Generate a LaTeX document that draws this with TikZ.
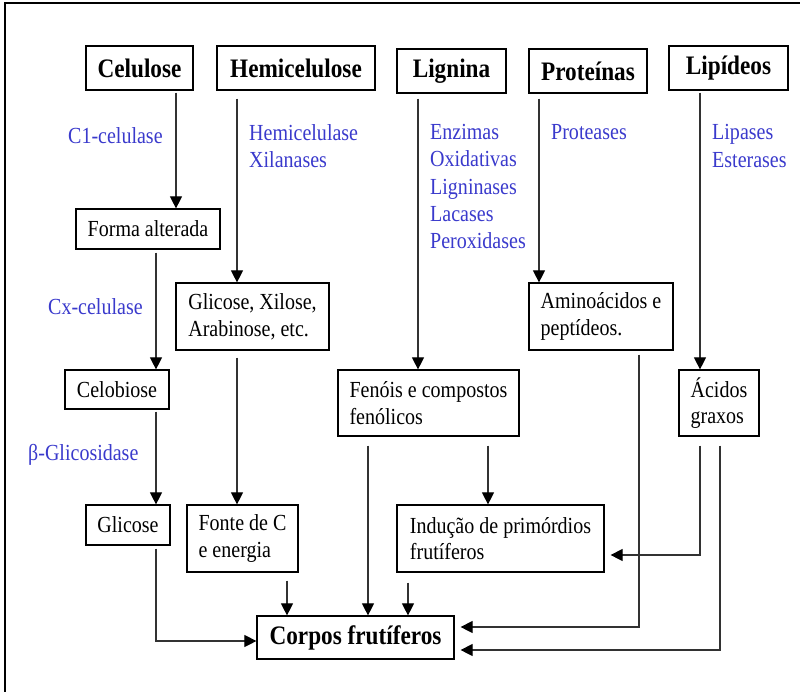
\documentclass[tikz,border=0pt]{standalone}
\usepackage{fontspec}
\setmainfont{Liberation Serif}[FakeStretch=0.87]
\usetikzlibrary{arrows.meta,calc}
\definecolor{lblue}{RGB}{58,58,204}
\definecolor{conn}{RGB}{50,50,50}
\begin{document}
\begin{tikzpicture}[x=1pt,y=-1pt,
  box/.style={draw=black,line width=1.2pt,inner sep=0pt,align=left,font=\fontsize{23}{26.7}\selectfont},
  title/.style={draw=black,line width=1.2pt,inner sep=0pt,font=\fontsize{26.7}{30}\selectfont\bfseries},
  lab/.style={text=lblue,inner sep=0pt,anchor=west,align=left,font=\fontsize{23}{27.3}\selectfont},
  arr/.style={draw=conn,line width=1.1pt,-{Triangle[length=12pt,width=12pt,color=black]}}]
\useasboundingbox (0,0) rectangle (800,691);
\draw[line width=2pt] (5,3) rectangle (806,697);

% top titles
\node[title,minimum width=107pt,minimum height=44pt] (cel) at (139.5,68) {Celulose};
\node[title,minimum width=158pt,minimum height=44pt] (hem) at (296,68) {Hemicelulose};
\node[title,minimum width=109pt,minimum height=44pt] (lig) at (451.5,71) {Lignina};
\node[title,minimum width=118pt,minimum height=44pt] (pro) at (588,71) {Proteínas};
\node[title,minimum width=119pt,minimum height=44pt] (lip) at (728.5,68) {Lipídeos};

% intermediate boxes
\node[box,minimum width=144pt,minimum height=40pt] (forma) at (148,229) {Forma alterada};
\node[box,minimum width=153pt,minimum height=67pt] (gxa) at (252.5,316.5) {Glicose, Xilose,\\Arabinose, etc.};
\node[box,minimum width=104pt,minimum height=39pt] (celob) at (117,389.5) {Celobiose};
\node[box,minimum width=181pt,minimum height=66pt] (fen) at (428.5,403) {Fenóis e compostos\\fenólicos};
\node[box,minimum width=144pt,minimum height=67pt] (amino) at (601,316.5) {Aminoácidos e\\peptídeos.};
\node[box,minimum width=80pt,minimum height=66pt] (acidos) at (719,403) {Ácidos\\graxos};
\node[box,minimum width=84pt,minimum height=40pt] (glic) at (128,525) {Glicose};
\node[box,minimum width=111pt,minimum height=67pt] (fonte) at (242.5,538.5) {Fonte de C\\e energia};
\node[box,minimum width=207pt,minimum height=67pt] (indu) at (500.5,538.5) {Indução de primórdios\\frutíferos};
\node[title,minimum width=197pt,minimum height=43pt] (corpos) at (355.5,637.5) {Corpos frutíferos};

% enzyme labels
\node[lab] (l1) at (68,136) {C1-celulase};
\node[lab] (l2) at (249,146) {Hemicelulase\\Xilanases};
\node[lab] (l3) at (430,186.5) {Enzimas\\Oxidativas\\Ligninases\\Lacases\\Peroxidases};
\node[lab] (l4) at (551,132) {Proteases};
\node[lab] (l5) at (712,146) {Lipases\\Esterases};
\node[lab] (l6) at (48,307) {Cx-celulase};
\node[lab] (l7) at (28,455) {β-Glicosidase};

% connectors
\draw[arr,shorten <=2pt] ([xshift=36.5pt]cel.south) -- ([xshift=28pt]forma.north);
\draw[arr,shorten <=8pt] ([xshift=-59pt]hem.south) -- ([xshift=-15.5pt]gxa.north);
\draw[arr,shorten <=3pt] ([xshift=8pt]forma.south) -- ([xshift=39pt]celob.north);
\draw[arr,shorten <=2pt] ([xshift=39pt]celob.south) -- ([xshift=28pt]glic.north);
\draw[arr,shorten <=7pt] ([xshift=-15.5pt]gxa.south) -- ([xshift=-5.5pt]fonte.north);
\draw[arr,shorten <=8pt] ([xshift=44.5pt]fonte.south) -- ([xshift=-68.5pt]corpos.north);
\draw[arr,shorten <=3pt] ([xshift=28pt]glic.south) |- ([yshift=-3.5pt]corpos.west);
\draw[arr,shorten <=5pt] ([xshift=-33.5pt]lig.south) -- ([xshift=-10.5pt]fen.north);
\draw[arr,shorten <=9pt] ([xshift=-60.5pt]fen.south) -- ([xshift=12.5pt]corpos.north);
\draw[arr,shorten <=9pt] ([xshift=59.5pt]fen.south) -- ([xshift=-12.5pt]indu.north);
\draw[arr,shorten <=10pt] ([xshift=-92.5pt]indu.south) -- ([xshift=52.5pt]corpos.north);
\draw[arr,shorten <=5pt] ([xshift=-49pt]pro.south) -- ([xshift=-62pt]amino.north);
\draw[arr,shorten <=4pt,shorten >=6pt] ([xshift=38pt]amino.south) |- ([yshift=10.5pt]corpos.east);
\draw[arr,shorten <=2pt] ([xshift=-28.5pt]lip.south) -- ([xshift=-19pt]acidos.north);
\draw[arr,shorten <=9pt,shorten >=6pt] ([xshift=-19pt]acidos.south) |- ([yshift=-16.5pt]indu.east);
\draw[arr,shorten <=9pt,shorten >=6pt] ([xshift=1pt]acidos.south) |- ([yshift=-12.5pt]corpos.east);
\end{tikzpicture}
\end{document}
